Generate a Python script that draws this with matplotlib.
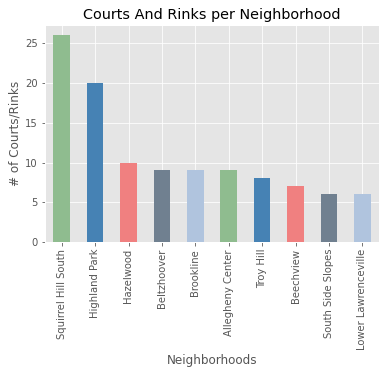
import matplotlib
matplotlib.use("Agg")
import matplotlib.pyplot as plt
import pandas as pd

neighborhoods = [
    "Squirrel Hill South", "Highland Park", "Hazelwood", "Beltzhoover",
    "Brookline", "Allegheny Center", "Troy Hill", "Beechview",
    "South Side Slopes", "Lower Lawrenceville",
]
counts = [26, 20, 10, 9, 9, 9, 8, 7, 6, 6]
colors = ["darkseagreen", "steelblue", "lightcoral", "slategray", "lightsteelblue"]

plt.style.use("ggplot")
fig = plt.figure(figsize=(385 / 72, 374 / 72), dpi=72)
ax = fig.add_axes([45 / 385, 1 - 242 / 374, 334 / 385, 217 / 374])

series = pd.Series(counts, index=neighborhoods)
series.plot.bar(ax=ax, color=[colors[i % len(colors)] for i in range(len(counts))])

ax.set_title("Courts And Rinks per Neighborhood")
ax.set_xlabel("Neighborhoods")
ax.set_ylabel("# of Courts/Rinks")

fig.savefig("out.png", dpi=72)
